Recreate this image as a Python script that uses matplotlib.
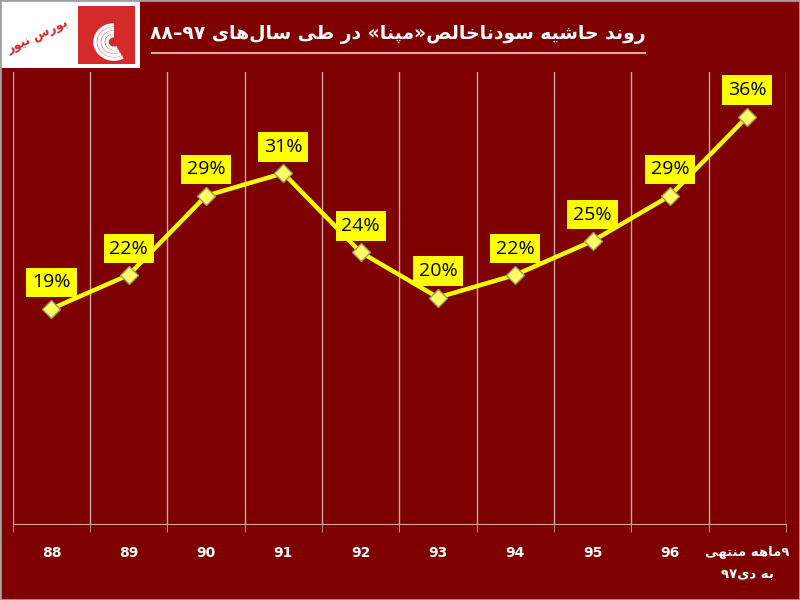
import re
import matplotlib
matplotlib.use('Agg')
import matplotlib.pyplot as plt
from matplotlib.patches import Rectangle, Arc

# داده ها
years = ['88', '89', '90', '91', '92', '93', '94', '95', '96', '۹ماهه منتهی\nبه دی۹۷']
margin = [19, 22, 29, 31, 24, 20, 22, 25, 29, 36]
title_fa = 'روند حاشیه سودناخالص«مپنا» در طی سال‌های ۹۷–۸۸'
logo_fa = 'بورس نیوز'

# شکل حروف عربی/فارسی (تنها، پایانی، آغازی، میانی)
FORMS = {
    'ا': ('\uFE8D', '\uFE8E', None, None),
    'د': ('\uFEA9', '\uFEAA', None, None),
    'ر': ('\uFEAD', '\uFEAE', None, None),
    'ز': ('\uFEAF', '\uFEB0', None, None),
    'و': ('\uFEED', '\uFEEE', None, None),
    'ب': ('\uFE8F', '\uFE90', '\uFE91', '\uFE92'),
    'پ': ('\uFB56', '\uFB57', '\uFB58', '\uFB59'),
    'ت': ('\uFE95', '\uFE96', '\uFE97', '\uFE98'),
    'ح': ('\uFEA1', '\uFEA2', '\uFEA3', '\uFEA4'),
    'خ': ('\uFEA5', '\uFEA6', '\uFEA7', '\uFEA8'),
    'س': ('\uFEB1', '\uFEB2', '\uFEB3', '\uFEB4'),
    'ش': ('\uFEB5', '\uFEB6', '\uFEB7', '\uFEB8'),
    'ص': ('\uFEB9', '\uFEBA', '\uFEBB', '\uFEBC'),
    'ط': ('\uFEC1', '\uFEC2', '\uFEC3', '\uFEC4'),
    'ل': ('\uFEDD', '\uFEDE', '\uFEDF', '\uFEE0'),
    'م': ('\uFEE1', '\uFEE2', '\uFEE3', '\uFEE4'),
    'ن': ('\uFEE5', '\uFEE6', '\uFEE7', '\uFEE8'),
    'ه': ('\uFEE9', '\uFEEA', '\uFEEB', '\uFEEC'),
    'ی': ('\uFEEF', '\uFEF0', '\uFEF3', '\uFEF4'),
}


def shape(word):
    out = []
    for i, c in enumerate(word):
        if c not in FORMS:
            out.append(c)
            continue
        prev = word[i - 1] if i > 0 else None
        nxt = word[i + 1] if i + 1 < len(word) else None
        jp = prev in FORMS and FORMS[prev][2] is not None
        jn = FORMS[c][2] is not None and nxt in FORMS
        iso, fin, ini, med = FORMS[c]
        if jp and jn:
            out.append(med)
        elif jp:
            out.append(fin)
        elif jn:
            out.append(ini)
        else:
            out.append(iso)
    return ''.join(out)


def fa(text):
    lines = []
    for line in text.split('\n'):
        s = shape(line).replace('\u200c', '')[::-1]
        s = re.sub(r'[0-9۰-۹]+', lambda m: m.group()[::-1], s)
        s = s.translate(str.maketrans('«»', '»«'))
        lines.append(s)
    return '\n'.join(lines)


bg = '#7f0000'
fig = plt.figure(figsize=(8, 6), dpi=100, facecolor=bg)
plt.rcParams['font.family'] = ['DejaVu Sans']

ax = fig.add_axes([12.8 / 800, (600 - 523.5) / 600, 773 / 800, 452 / 600])
ax.set_facecolor(bg)
x = list(range(len(years)))
ax.plot(x, margin, color='#ffff00', lw=3.2, marker='D', ms=9,
        mfc='#ffff66', mec='#9a9a60', mew=1, zorder=3)
for xi, v in zip(x, margin):
    ax.annotate(f'{v}%', (xi, v), xytext=(0, 19), textcoords='offset points',
                ha='center', va='center', fontsize=14, color='black',
                family='Open Sans',
                bbox=dict(boxstyle='square,pad=0.3', fc='#ffff00', ec='none'))

ax.set_xlim(-0.5, len(years) - 0.5)
ax.set_ylim(0, 40)
for b in range(len(years) + 1):
    ax.axvline(b - 0.5, color='#c8a8a8', lw=1, zorder=1)
ax.set_yticks([])
ax.set_xticks(x)
labels = [fa(t) if not t.isdigit() else t for t in years]
ax.set_xticklabels(labels, color='white', fontsize=10, fontweight='bold')
ax.get_xticklabels()[-1].set_linespacing(1.9)
ax.get_xticklabels()[-1].set_fontsize(9.5)
ax.get_xticklabels()[-1].set_verticalalignment('top')
ax.set_xticks([b - 0.5 for b in range(len(years) + 1)], minor=True)
ax.tick_params(axis='x', which='major', length=0, pad=16)
ax.tick_params(axis='x', which='minor', length=6, color='#c8a8a8')
for s in ['top', 'left', 'right']:
    ax.spines[s].set_visible(False)
ax.spines['bottom'].set_color('#c8a8a8')

# عنوان
fig.text(398 / 800, 1 - 35 / 600, fa(title_fa), ha='center', va='center',
         color='white', fontsize=13.5, fontweight='bold')
fig.add_artist(plt.Line2D([152 / 800, 645 / 800], [1 - 53 / 600, 1 - 53 / 600],
                          color='#e0a8a8', lw=1.5))

# لوگو
fig.add_artist(Rectangle((0, 1 - 68 / 600), 140 / 800, 68 / 600,
                         transform=fig.transFigure, fc='white', ec='none'))
lax = fig.add_axes([78 / 800, 1 - 64 / 600, 57 / 800, 58 / 600], zorder=2)
lax.set_xlim(0, 57)
lax.set_ylim(0, 58)
lax.set_facecolor('#d42a2a')
lax.set_xticks([])
lax.set_yticks([])
for s in lax.spines.values():
    s.set_visible(False)
for r in [14, 22, 30, 38]:
    lax.add_patch(Arc((36, 22), r, r * 0.9, theta1=90, theta2=300,
                      color='white', lw=2.5))
fig.text(38 / 800, 1 - 36 / 600, fa(logo_fa), ha='center', va='center',
         color='#d42a2a', fontsize=9, fontweight='bold', rotation=25)

fig.add_artist(Rectangle((0, 0), 1, 1, transform=fig.transFigure,
                         fc='none', ec='#a0a0a0', lw=2))

fig.savefig('out.png', dpi=100, facecolor=bg)
